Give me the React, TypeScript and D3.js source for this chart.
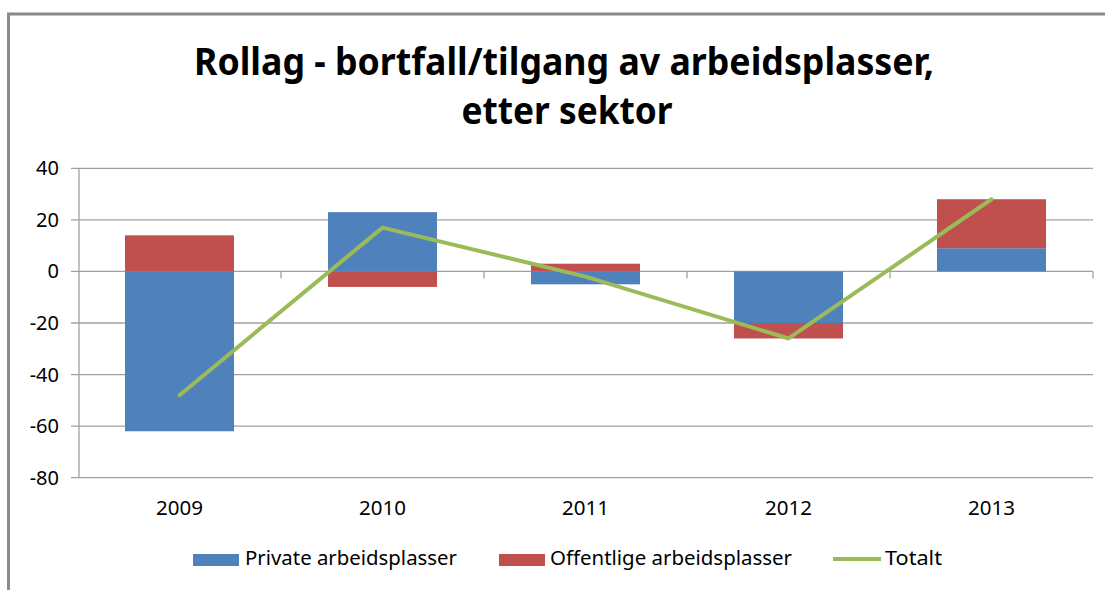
import React from "react";
import * as d3 from "d3";

const years = ["2009", "2010", "2011", "2012", "2013"];
const privateJobs = [-62, 23, -5, -20, 9];
const publicJobs = [14, -6, 3, -6, 19];
const totals = [-48, 17, -2, -26, 28];
const yTicks = [40, 20, 0, -20, -40, -60, -80];
const titleLines = ["Rollag - bortfall/tilgang av arbeidsplasser,", "etter sektor"];
const seriesNames = ["Private arbeidsplasser", "Offentlige arbeidsplasser", "Totalt"];

const W = 1105;
const H = 590;
const BLUE = "#4F81BD";
const RED = "#C0504D";
const GREEN = "#9BBB59";
const GRID = "#A0A0A0";
const FONT = "'Noto Sans', 'Open Sans', sans-serif";

export default function App() {
  const x = d3.scaleBand<string>().domain(years).range([78, 1093]).paddingInner(0.463).paddingOuter(0.2315);
  const y = d3.scaleLinear().domain([-80, 40]).range([477.7, 168.3]);

  const rows = years.map((yr, i) => ({ year: yr, priv: privateJobs[i], pub: publicJobs[i] }));
  const stack = d3.stack<any>().keys(["priv", "pub"]).offset(d3.stackOffsetDiverging);
  const layers = stack(rows);
  const colors = [BLUE, RED];

  const cx = (yr: string) => (x(yr) as number) + x.bandwidth() / 2;
  const line = d3
    .line<number>()
    .x((_, i) => cx(years[i]))
    .y((d) => y(d));

  const step = x.step();
  const boundaries = d3.range(years.length + 1).map((i) => 78 + i * step);

  return (
    <svg width={W} height={H} style={{ position: "absolute", left: 0, top: 0, background: "#fff" }}>
      <rect x={0} y={0} width={W} height={H} fill="#fff" />
      {/* outer frame */}
      <rect x={8.5} y={14} width={W + 50} height={H + 50} fill="none" stroke="#8A8A8A" strokeWidth={3} />

      {/* title */}
      <text x={564} y={75} textAnchor="middle" fontFamily={FONT} fontWeight="bold" fontSize={38}
        textLength={740} lengthAdjust="spacingAndGlyphs" fill="#000">{titleLines[0]}</text>
      <text x={567} y={124} textAnchor="middle" fontFamily={FONT} fontWeight="bold" fontSize={38}
        textLength={211} lengthAdjust="spacingAndGlyphs" fill="#000">{titleLines[1]}</text>

      {/* gridlines + y ticks */}
      {yTicks.map((t) => (
        <g key={t}>
          <line x1={71} x2={1093} y1={y(t)} y2={y(t)} stroke={GRID} strokeWidth={1.3} />
          <text x={59} y={y(t) + 7} textAnchor="end" fontFamily={FONT} fontSize={20} fill="#000">{t}</text>
        </g>
      ))}
      {/* y axis line */}
      <line x1={79} x2={79} y1={y(40)} y2={y(-80)} stroke={GRID} strokeWidth={1.3} />

      {/* bars */}
      {layers.map((layer, li) =>
        layer.map((d, i) => (
          <rect key={`${li}-${i}`} x={x(years[i])} width={x.bandwidth()}
            y={y(Math.max(d[0], d[1]))} height={Math.abs(y(d[0]) - y(d[1]))} fill={colors[li]} />
        ))
      )}

      {/* category tick marks on zero line */}
      {boundaries.slice(1).map((b, i) => (
        <line key={i} x1={b} x2={b} y1={y(0)} y2={y(0) + 7} stroke={GRID} strokeWidth={1.3} />
      ))}

      {/* total line */}
      <path d={line(totals) || ""} fill="none" stroke={GREEN} strokeWidth={4} strokeLinejoin="round" strokeLinecap="round" />

      {/* x labels */}
      {years.map((yr) => (
        <text key={yr} x={cx(yr)} y={515} textAnchor="middle" fontFamily={FONT} fontSize={20}
          textLength={47} lengthAdjust="spacingAndGlyphs" fill="#000">{yr}</text>
      ))}

      {/* legend */}
      <rect x={193} y={554} width={46} height={12} fill={BLUE} />
      <text x={245} y={565} fontFamily={FONT} fontSize={20} textLength={212} lengthAdjust="spacingAndGlyphs" fill="#000">{seriesNames[0]}</text>
      <rect x={499} y={554} width={46} height={12} fill={RED} />
      <text x={550} y={565} fontFamily={FONT} fontSize={20} textLength={242} lengthAdjust="spacingAndGlyphs" fill="#000">{seriesNames[1]}</text>
      <line x1={833} x2={881} y1={559} y2={559} stroke={GREEN} strokeWidth={4} />
      <text x={885} y={565} fontFamily={FONT} fontSize={20} textLength={57} lengthAdjust="spacingAndGlyphs" fill="#000">{seriesNames[2]}</text>
    </svg>
  );
}
